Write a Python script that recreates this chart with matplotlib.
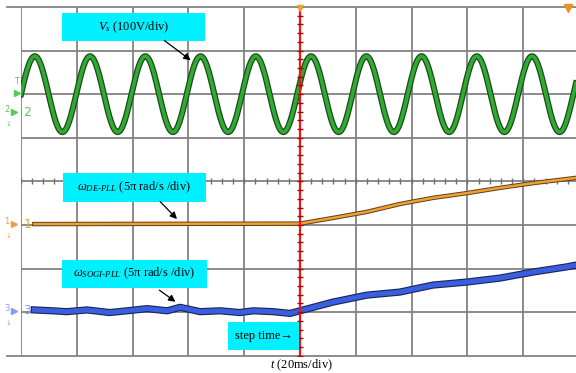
import numpy as np
import matplotlib.pyplot as plt
from matplotlib.patches import Rectangle
import matplotlib.patheffects as pe

plt.rcParams['font.family'] = 'Liberation Serif'
plt.rcParams['mathtext.fontset'] = 'custom'
plt.rcParams['mathtext.rm'] = 'Liberation Serif'
plt.rcParams['mathtext.it'] = 'Liberation Serif:italic'

# everything below is in scope divisions (10 x 8 screen)
step_t = 5.0

# channel 2: grid voltage Vs
vs_offset = 2.0
vs_amp = 0.87
vs_period = 0.99

# channel 1: DE-PLL frequency estimate
de_t = [0.24, 5.0, 5.59, 6.2, 6.79, 7.38, 7.99, 8.58, 9.18, 9.95]
de_v = [-0.98, -0.97, -0.84, -0.70, -0.52, -0.38, -0.27, -0.15, -0.04, 0.08]

# channel 3: SOGI-PLL frequency estimate
sogi_t = [0.24, 0.57, 0.82, 1.18, 1.59, 1.9, 2.26, 2.62, 2.85, 3.21, 3.57, 3.92,
          4.16, 4.52, 4.82, 5.0, 5.59, 6.2, 6.79, 7.38, 7.99, 8.58, 9.18, 9.79, 9.95]
sogi_v = [-2.95, -2.97, -2.99, -2.95, -3.01, -2.97, -2.92, -2.97, -2.89, -2.99, -2.97, -3.01,
          -2.97, -2.99, -3.03, -2.97, -2.77, -2.61, -2.54, -2.38, -2.31, -2.22, -2.08, -1.96, -1.92]

# ground reference markers per channel
chan_names = ['2', '1', '3']
chan_levels = [1.59, -0.98, -2.97]
chan_colors = ['#55cc55', '#f0a040', '#8a9af0']

fig = plt.figure(figsize=(5.76, 3.73), dpi=100)
ax = fig.add_axes([21 / 576, 17.3 / 373, 555 / 576, 348.7 / 373])
ax.set_xlim(0, 9.946)
ax.set_ylim(-4, 4)
ax.axis('off')

# graticule
grid_c = '#828282'
for gx in range(0, 10):
    ax.axvline(gx, color=grid_c, lw=1.3, zorder=1)
for gy in range(-3, 4):
    ax.axhline(gy, color=grid_c, lw=1.3, zorder=1)
for gy in (-4, 4):
    ax.plot([-0.25, 9.946], [gy, gy], color=grid_c, lw=1.3, zorder=1, clip_on=False)
minor = np.arange(0, 10, 0.2)
ax.plot(minor, np.zeros_like(minor), ls='none', marker='|', ms=4, mew=1.0,
        color='#707070', zorder=1)

# traces
t = np.linspace(0, 9.946, 2000)
vs = vs_offset + vs_amp * np.sin(2 * np.pi * t / vs_period)
ax.plot(t, vs, color='#30aa30', lw=2.6, zorder=3,
        path_effects=[pe.Stroke(linewidth=4.4, foreground='#1c4a1c'), pe.Normal()])
ax.plot(de_t, de_v, color='#f0a030', lw=1.8, zorder=3,
        path_effects=[pe.Stroke(linewidth=3.2, foreground='#5a4020'), pe.Normal()])
ax.plot(sogi_t, sogi_v, color='#3a5ee0', lw=3.6, zorder=3,
        path_effects=[pe.Stroke(linewidth=5.2, foreground='#1a2450'), pe.Normal()])

# step instant cursor
ax.axvline(step_t, color='#e81818', lw=1.6, zorder=4)
rt = np.arange(-4, 4.01, 0.2)
ax.plot(np.full_like(rt, step_t), rt, ls='none', marker='_', ms=4, mew=1.0,
        color='#b00000', zorder=4)
ax.plot([step_t], [3.97], marker='v', ms=5, color='#f0a030', zorder=5, clip_on=False)
ax.plot([9.8], [3.97], marker='v', ms=6, color='#f09020', zorder=5, clip_on=False)

# channel markers on the left edge
for name, lvl, c in zip(chan_names, chan_levels, chan_colors):
    ax.text(-0.25, lvl + 0.06, name, color=c, fontsize=6, family='DejaVu Sans',
            ha='center', va='center', clip_on=False)
    ax.text(-0.22, lvl - 0.27, '\u2193', color=c, fontsize=5, family='DejaVu Sans',
            ha='center', va='center', clip_on=False)
    ax.plot([-0.12], [lvl], marker='>', ms=4, color=c, clip_on=False, zorder=5)
    ax.text(0.11, lvl, name, color=c, fontsize=9, family='DejaVu Sans',
            ha='center', va='center', clip_on=False, zorder=6)
ax.text(-0.08, 2.3, 'T', color='#55cc55', fontsize=6, family='DejaVu Sans',
        ha='center', va='center', clip_on=False)
ax.plot([-0.07], [2.03], marker='>', ms=4, color='#55cc55', clip_on=False, zorder=5)

# callout boxes
box_c = '#00f0ff'
boxes = [
    (0.73, 3.22, 2.57, 0.64, r'$V_s$ (100V/div)'),
    (0.75, -0.47, 2.57, 0.66, r'$\omega_{DE\text{-}PLL}$ (5π rad/s /div)'),
    (0.73, -2.44, 2.60, 0.64, r'$\omega_{SOGI\text{-}PLL}$ (5π rad/s /div)'),
    (3.71, -3.87, 1.27, 0.65, 'step time\u2192'),
]
for bx, by, bw, bh, txt in boxes:
    ax.add_patch(Rectangle((bx, by), bw, bh, facecolor=box_c, edgecolor='none', zorder=6))
    ax.text(bx + bw / 2, by + bh / 2, txt, fontsize=9, ha='center', va='center', zorder=7)

# arrows to the traces
arrows = [((2.53, 3.27), (3.08, 2.74)),
          ((2.46, -0.42), (2.83, -0.91)),
          ((2.44, -2.46), (2.81, -2.80))]
for (x0, y0), (x1, y1) in arrows:
    ax.annotate('', xy=(x1, y1), xytext=(x0, y0), zorder=8,
                arrowprops=dict(arrowstyle='-|>', color='black', lw=0.9,
                                mutation_scale=10))

ax.text(5.03, -4.21, r'$t$ (20ms/div)', fontsize=9, ha='center', va='center',
        clip_on=False)

fig.savefig('out.png', dpi=100)
